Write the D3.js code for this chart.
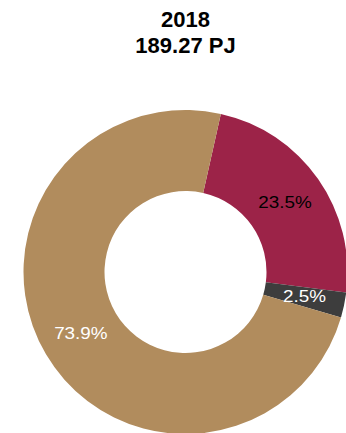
<!DOCTYPE html>
<html>
<head>
<meta charset="utf-8">
<script src="https://cdn.jsdelivr.net/npm/d3@7"></script>
<style>
html,body{margin:0;padding:0;background:#fff;overflow:hidden;}
svg{display:block;font-family:"Liberation Sans",Arial,sans-serif;}
</style>
</head>
<body>
<svg id="chart" width="346" height="433"></svg>
<script>
const titleLines = ["2018", "189.27 PJ"];
const categories = ["Red", "Dark", "Tan"];
const values = [23.5, 2.5, 73.9];
const colors = ["#9c2348", "#3d3d3d", "#b18c5d"];
const labelColors = ["#000000", "#ffffff", "#ffffff"];

const svg = d3.select("#chart");
const cx = 185.5, cy = 272, outerR = 162, innerR = 81;

const title = svg.append("text")
  .attr("x", cx).attr("y", 27)
  .attr("text-anchor", "middle")
  .style("font-weight", "bold").style("font-size", "22px").attr("fill", "#000");
titleLines.forEach((t, i) => {
  title.append("tspan").attr("x", cx).attr("y", 27 + i * 26).text(t);
});

const data = categories.map((c, i) => ({ cat: c, value: values[i], color: colors[i], lc: labelColors[i] }));
const start = 12.6 * Math.PI / 180;
const pie = d3.pie().value(d => d.value).sort(null)
  .startAngle(start).endAngle(start + 2 * Math.PI);
const arc = d3.arc().innerRadius(innerR).outerRadius(outerR);
const labelArc = d3.arc().innerRadius((innerR + outerR) / 2).outerRadius((innerR + outerR) / 2);

const g = svg.append("g").attr("transform", `translate(${cx},${cy})`);
const arcs = pie(data);
g.selectAll("path").data(arcs).join("path")
  .attr("d", arc).attr("fill", d => d.data.color);

g.selectAll("text").data(arcs).join("text")
  .attr("transform", d => `translate(${labelArc.centroid(d)}) scale(1.18,1)`)
  .attr("dy", "0.35em")
  .attr("text-anchor", "middle")
  .style("font-size", "16px")
  .attr("fill", d => d.data.lc)
  .text(d => d.data.value.toFixed(1) + "%");
</script>
</body>
</html>
